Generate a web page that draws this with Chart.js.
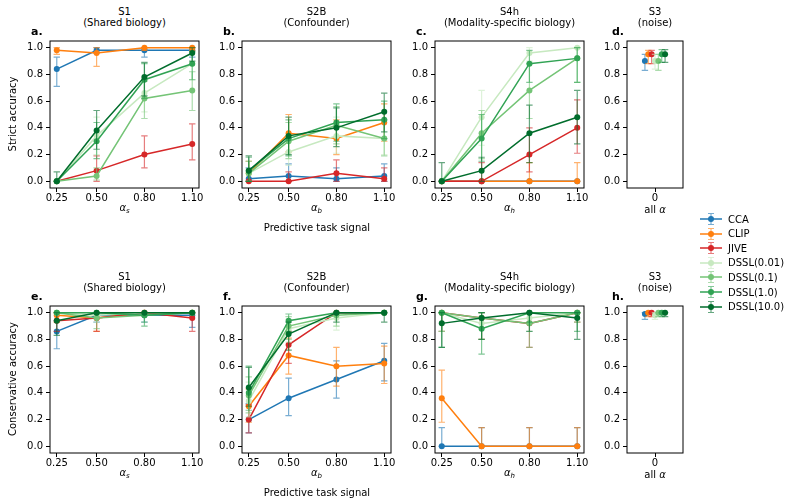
<!DOCTYPE html>
<html>
<head>
<meta charset="utf-8">
<script src="https://cdn.jsdelivr.net/npm/chart.js"></script>
<style>
  body { margin: 0; background: #fff; width: 791px; height: 504px; position: relative; overflow: hidden;
         font-family: "DejaVu Sans", sans-serif; color: #000; }
  canvas { position: absolute; }
  .t { position: absolute; font-size: 10px; line-height: 11px; white-space: nowrap; text-align: center;
       transform: translate(-50%, -50%); }
  .lt { position: absolute; font-size: 11px; font-weight: bold; white-space: nowrap; transform: translateY(-50%); }
  .yl { position: absolute; font-size: 10px; white-space: nowrap; transform: translate(-50%, -50%) rotate(-90deg); }
  sub { font-size: 7px; vertical-align: -2px; }
  .leg { position: absolute; left: 700px; font-size: 10px; display: flex; align-items: center; height: 14px; }
  .leg span { margin-left: 6px; }
</style>
</head>
<body>
<script>
const methods = ['CCA', 'CLIP', 'JIVE', 'DSSL(0.01)', 'DSSL(0.1)', 'DSSL(1.0)', 'DSSL(10.0)'];
const colors = ['#1f77b4', '#ff7f0e', '#d62728', '#c7e9c0', '#74c476', '#31a354', '#006d2c'];
const alphaTicks = [0.25, 0.50, 0.80, 1.10];
const yTicks = [0, 0.2, 0.4, 0.6, 0.8, 1.0];

// strict accuracy, S1
const strictS1 = [[0.84, 0.98, 0.98, 0.98], [0.98, 0.96, 1.0, 1.0], [0, 0.08, 0.20, 0.28], [0, 0.34, 0.66, 0.88],
                  [0, 0.04, 0.62, 0.68], [0, 0.30, 0.76, 0.88], [0, 0.38, 0.78, 0.96]];
const strictS1Lo = [[0.71, 0.96, 0.93, 0.93], [0.95, 0.86, 0.98, 0.98], [0, 0, 0.10, 0.16], [0, 0.20, 0.52, 0.76],
                    [0, 0.01, 0.47, 0.53], [0, 0.17, 0.62, 0.76], [0, 0.24, 0.64, 0.90]];
const strictS1Hi = [[0.93, 1.0, 1.0, 1.0], [1.0, 1.0, 1.0, 1.0], [0, 0.19, 0.34, 0.43], [0, 0.48, 0.78, 0.97],
                    [0, 0.10, 0.75, 0.82], [0, 0.44, 0.88, 0.97], [0.07, 0.53, 0.89, 1.0]];
// strict accuracy, S2B
const strictS2B = [[0.02, 0.04, 0.02, 0.04], [0.06, 0.36, 0.32, 0.44], [0, 0, 0.06, 0.02], [0.06, 0.22, 0.34, 0.32],
                   [0.06, 0.30, 0.42, 0.32], [0.08, 0.32, 0.44, 0.46], [0.08, 0.34, 0.40, 0.52]];
const strictS2BLo = [[0, 0, 0, 0], [0, 0.22, 0.20, 0.30], [0, 0, 0, 0], [0, 0.12, 0.21, 0.20],
                     [0, 0.17, 0.28, 0.19], [0, 0.19, 0.30, 0.32], [0, 0.20, 0.26, 0.37]];
const strictS2BHi = [[0.10, 0.13, 0.10, 0.13], [0.15, 0.50, 0.46, 0.58], [0, 0.07, 0.16, 0.10], [0.15, 0.34, 0.48, 0.46],
                     [0.15, 0.44, 0.56, 0.46], [0.18, 0.46, 0.58, 0.60], [0.19, 0.48, 0.55, 0.66]];
// strict accuracy, S4h
const strictS4h = [[0, 0, 0, 0], [0, 0, 0, 0], [0, 0, 0.20, 0.40], [0, 0.48, 0.96, 1.0],
                   [0, 0.36, 0.68, 0.92], [0, 0.32, 0.88, 0.92], [0, 0.08, 0.36, 0.48]];
const strictS4hLo = [[0, 0, 0, 0], [0, 0, 0, 0], [0, 0, 0.07, 0.21], [0, 0.27, 0.90, 1.0],
                     [0, 0.17, 0.47, 0.74], [0, 0.15, 0.74, 0.74], [0, 0, 0.14, 0.28]];
const strictS4hHi = [[0, 0, 0, 0], [0, 0, 0.14, 0.14], [0, 0.14, 0.40, 0.61], [0, 0.68, 1.0, 1.0],
                     [0, 0.53, 0.88, 1.0], [0, 0.50, 0.98, 1.0], [0.14, 0.18, 0.57, 0.68]];
// strict accuracy, S3 (one value per method)
const strictS3 = [0.90, 0.95, 0.95, 0.90, 0.90, 0.95, 0.95];
const strictS3Lo = [0.83, 0.88, 0.88, 0.84, 0.83, 0.89, 0.89];
const strictS3Hi = [0.95, 0.98, 0.98, 0.95, 0.95, 0.985, 0.985];

// conservative accuracy, S1
const consS1 = [[0.86, 0.98, 0.98, 0.98], [0.98, 0.96, 1.0, 1.0], [0.94, 0.96, 1.0, 0.96], [1.0, 0.98, 1.0, 1.0],
                [1.0, 0.96, 0.98, 1.0], [1.0, 1.0, 0.98, 1.0], [0.94, 1.0, 1.0, 1.0]];
const consS1Lo = [[0.73, 0.93, 0.93, 0.89], [0.93, 0.86, 1.0, 1.0], [0.86, 0.86, 1.0, 0.86], [1.0, 0.93, 1.0, 1.0],
                  [1.0, 0.88, 0.93, 1.0], [1.0, 1.0, 0.90, 1.0], [0.83, 1.0, 1.0, 1.0]];
const consS1Hi = [[0.94, 1.0, 1.0, 1.0], [1.0, 1.0, 1.0, 1.0], [1.0, 1.0, 1.0, 1.0], [1.0, 1.0, 1.0, 1.0],
                  [1.0, 1.0, 1.0, 1.0], [1.0, 1.0, 1.0, 1.0], [1.0, 1.0, 1.0, 1.0]];
// conservative accuracy, S2B
const consS2B = [[0.20, 0.36, 0.50, 0.64], [0.30, 0.68, 0.60, 0.62], [0.20, 0.76, 1.0, 1.0], [0.34, 0.88, 0.96, 1.0],
                 [0.38, 0.90, 0.98, 1.0], [0.40, 0.94, 1.0, 1.0], [0.44, 0.84, 1.0, 1.0]];
const consS2BLo = [[0.10, 0.23, 0.36, 0.49], [0.18, 0.54, 0.45, 0.47], [0.10, 0.62, 1.0, 1.0], [0.22, 0.78, 0.87, 1.0],
                   [0.25, 0.80, 0.90, 1.0], [0.27, 0.86, 1.0, 1.0], [0.30, 0.72, 0.93, 0.93]];
const consS2BHi = [[0.32, 0.51, 0.64, 0.77], [0.43, 0.81, 0.74, 0.75], [0.31, 0.86, 1.0, 1.0], [0.48, 0.95, 1.0, 1.0],
                   [0.52, 0.97, 1.0, 1.0], [0.60, 0.99, 1.0, 1.0], [0.59, 0.93, 1.0, 1.0]];
// conservative accuracy, S4h
const consS4h = [[0, 0, 0, 0], [0.36, 0, 0, 0], [1.0, 0.96, 0.92, 1.0], [1.0, 0.92, 0.96, 1.0],
                 [1.0, 0.96, 0.92, 1.0], [1.0, 0.88, 1.0, 1.0], [0.92, 0.96, 1.0, 0.96]];
const consS4hLo = [[0, 0, 0, 0], [0.18, 0, 0, 0], [0.86, 0.80, 0.74, 0.93], [0.86, 0.80, 0.86, 0.93],
                   [0.86, 0.80, 0.74, 0.93], [0.74, 0.69, 0.93, 0.86], [0.74, 0.80, 0.86, 0.80]];
const consS4hHi = [[0.14, 0.14, 0.14, 0.14], [0.57, 0.14, 0.14, 0.14], [1.0, 1.0, 1.0, 1.0], [1.0, 1.0, 1.0, 1.0],
                   [1.0, 1.0, 1.0, 1.0], [1.0, 1.0, 1.0, 1.0], [1.0, 1.0, 1.0, 1.0]];
// conservative accuracy, S3
const consS3 = [0.99, 1.0, 1.0, 0.98, 1.0, 1.0, 1.0];
const consS3Lo = [0.95, 0.97, 0.97, 0.95, 0.97, 0.97, 0.97];
const consS3Hi = [1.0, 1.0, 1.0, 1.0, 1.0, 1.0, 1.0];

const panelLefts = [50, 242, 435, 627];
const panelWidths = [149, 149, 149, 56];
const rowTops = [41, 306];
const boxH = 147;
const FONT = '"DejaVu Sans", sans-serif';

function rgba(hex, a) {
  const n = parseInt(hex.slice(1), 16);
  return `rgba(${n >> 16}, ${(n >> 8) & 255}, ${n & 255}, ${a})`;
}

const errorBars = {
  id: 'errorBars',
  beforeDatasetDraw(chart, args) {
    const ds = chart.data.datasets[args.index];
    const ys = chart.scales.y, ctx = chart.ctx;
    ctx.save();
    ctx.strokeStyle = rgba(ds.borderColor, 0.6);
    ctx.lineWidth = 1.2;
    ds.data.forEach((p, j) => {
      const x = args.meta.data[j].x;
      const y0 = ys.getPixelForValue(ds.lo[j]), y1 = ys.getPixelForValue(ds.hi[j]);
      if (Math.abs(y1 - y0) < 0.5) return;
      ctx.beginPath();
      ctx.moveTo(x, y0); ctx.lineTo(x, y1);
      ctx.moveTo(x - 3.2, y0); ctx.lineTo(x + 3.2, y0);
      ctx.moveTo(x - 3.2, y1); ctx.lineTo(x + 3.2, y1);
      ctx.stroke();
    });
    ctx.restore();
  }
};

const frame = {
  id: 'frame',
  afterDraw(chart) {
    const a = chart.chartArea, ctx = chart.ctx;
    ctx.save();
    ctx.strokeStyle = '#000';
    ctx.lineWidth = 1;
    ctx.strokeRect(a.left, a.top, a.right - a.left, a.bottom - a.top);
    ctx.restore();
  }
};

function makePanel(col, row, means, lo, hi) {
  const PL = 40, PT = 10, PR = 15, PB = 25;
  const w = panelWidths[col];
  const cv = document.createElement('canvas');
  cv.width = PL + w + PR;
  cv.height = PT + boxH + PB;
  cv.style.left = (panelLefts[col] - PL) + 'px';
  cv.style.top = (rowTops[row] - PT) + 'px';
  document.body.appendChild(cv);

  const single = col === 3;
  const datasets = methods.map((m, i) => {
    const pts = single
      ? [{ x: (i - 3) * 0.06, y: means[i] }]
      : alphaTicks.map((a, j) => ({ x: a, y: means[i][j] }));
    return {
      label: m,
      data: pts,
      lo: single ? [lo[i]] : lo[i],
      hi: single ? [hi[i]] : hi[i],
      order: methods.length - i,   // later methods drawn on top
      borderColor: colors[i],
      backgroundColor: colors[i],
      borderWidth: 1.5,
      pointRadius: 3,
      pointHoverRadius: 3,
      pointBorderWidth: 0,
      showLine: !single,
      fill: false
    };
  });
  const tickFont = { family: FONT, size: 10 };
  const grid = { drawOnChartArea: false, drawTicks: true, tickLength: 4, color: '#000', lineWidth: 1 };
  new Chart(cv, {
    type: 'scatter',
    data: { datasets },
    options: {
      responsive: false,
      animation: false,
      events: [],
      layout: { padding: { left: 0, top: PT, right: PR, bottom: 0 } },
      plugins: { legend: { display: false }, tooltip: { enabled: false } },
      scales: {
        x: {
          type: 'linear',
          min: single ? -0.5 : 0.2075,
          max: single ? 0.5 : 1.1425,
          afterBuildTicks: s => { s.ticks = (single ? [0] : alphaTicks).map(v => ({ value: v })); },
          afterFit: s => { s.height = PB; },
          grid, border: { display: false },
          ticks: { padding: 0, color: '#000', font: tickFont, maxRotation: 0, autoSkip: false,
                   callback: v => single ? '0' : v.toFixed(2) }
        },
        y: {
          min: -0.05, max: 1.05,
          afterBuildTicks: s => { s.ticks = yTicks.map(v => ({ value: v })); },
          afterFit: s => { s.width = PL; },
          grid, border: { display: false },
          ticks: { padding: 3, color: '#000', font: tickFont, callback: v => v.toFixed(1) }
        }
      }
    },
    plugins: [errorBars, frame]
  });
}

function addText(cls, x, y, html) {
  const d = document.createElement('div');
  d.className = cls;
  d.style.left = x + 'px';
  d.style.top = y + 'px';
  d.innerHTML = html;
  document.body.appendChild(d);
}

const titles = [['S1', '(Shared biology)'], ['S2B', '(Confounder)'], ['S4h', '(Modality-specific biology)'], ['S3', '(noise)']];
const xLabels = ['<i>α<sub>s</sub></i>', '<i>α<sub>b</sub></i>', '<i>α<sub>h</sub></i>', 'all <i>α</i>'];
const letterX = [31, 223, 416, 612];
const letters = [['a.', 'b.', 'c.', 'd.'], ['e.', 'f.', 'g.', 'h.']];
const yLabels = ['Strict accuracy', 'Conservative accuracy'];

const panelData = [
  [[strictS1, strictS1Lo, strictS1Hi], [strictS2B, strictS2BLo, strictS2BHi], [strictS4h, strictS4hLo, strictS4hHi], [strictS3, strictS3Lo, strictS3Hi]],
  [[consS1, consS1Lo, consS1Hi], [consS2B, consS2BLo, consS2BHi], [consS4h, consS4hLo, consS4hHi], [consS3, consS3Lo, consS3Hi]]
];

for (let r = 0; r < 2; r++) {
  const off = rowTops[r] - rowTops[0];
  for (let c = 0; c < 4; c++) {
    makePanel(c, r, ...panelData[r][c]);
    const cx = panelLefts[c] + panelWidths[c] / 2;
    addText('t', cx, 17 + off, titles[c][0] + '<br>' + titles[c][1]);
    addText('t', cx, 209 + off, xLabels[c]);
    addText('lt', letterX[c], 30.5 + off, letters[r][c]);
  }
  addText('yl', 11.5, 114 + off, yLabels[r]);
  addText('t', 317, 227 + off, 'Predictive task signal');
}

methods.forEach((m, i) => {
  const d = document.createElement('div');
  d.className = 'leg';
  d.style.top = (212 + i * 14.6) + 'px';
  const ec = rgba(colors[i], 0.6);
  d.innerHTML = `<svg width="22" height="14"><line x1="0" y1="7" x2="22" y2="7" stroke="${colors[i]}" stroke-width="1.5"/>` +
    `<path d="M11 1.5V12.5M8 1.5H14M8 12.5H14" stroke="${ec}" stroke-width="1.2" fill="none"/>` +
    `<circle cx="11" cy="7" r="3" fill="${colors[i]}"/></svg><span>${m}</span>`;
  document.body.appendChild(d);
});
</script>
</body>
</html>
